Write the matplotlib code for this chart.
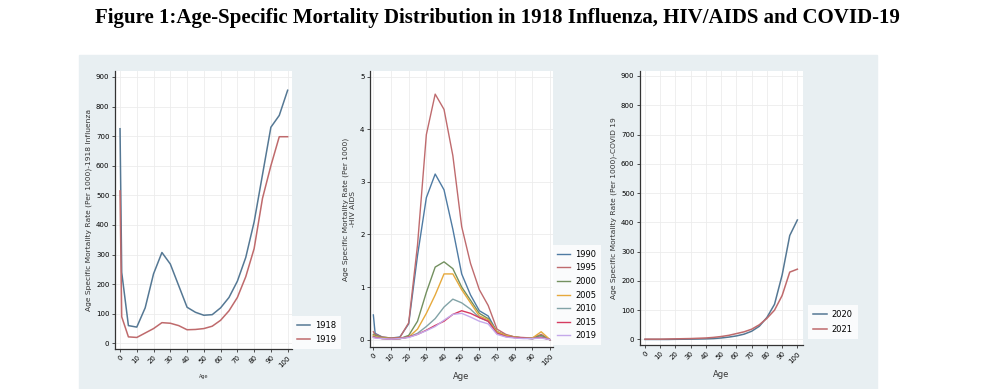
import numpy as np
import matplotlib
matplotlib.use("Agg")
import matplotlib.pyplot as plt
from matplotlib.patches import Rectangle

# age groups
ages = [0, 1, 5, 10, 15, 20, 25, 30, 35, 40, 45, 50, 55, 60, 65, 70, 75, 80, 85, 90, 95, 100]

# 1918 influenza (per 1000)
flu_1918 = [725, 240, 60, 55, 120, 235, 307, 268, 195, 122, 105, 95, 97, 120, 155, 210, 290, 410, 570, 730, 770, 855]
flu_1919 = [515, 90, 22, 20, 35, 50, 70, 68, 60, 46, 47, 50, 58, 78, 110, 155, 225, 320, 490, 600, 698, 698]

# HIV/AIDS (per 1000)
hiv_1990 = [0.47, 0.12, 0.05, 0.03, 0.05, 0.30, 1.60, 2.70, 3.15, 2.85, 2.10, 1.25, 0.85, 0.55, 0.45, 0.15, 0.08, 0.05, 0.03, 0.02, 0.05, 0.0]
hiv_1995 = [0.15, 0.10, 0.05, 0.03, 0.04, 0.32, 1.80, 3.90, 4.67, 4.38, 3.50, 2.15, 1.45, 0.95, 0.65, 0.20, 0.10, 0.05, 0.04, 0.03, 0.10, 0.0]
hiv_2000 = [0.10, 0.08, 0.04, 0.02, 0.02, 0.08, 0.35, 0.90, 1.38, 1.48, 1.35, 1.00, 0.75, 0.50, 0.40, 0.15, 0.08, 0.05, 0.03, 0.03, 0.08, 0.0]
hiv_2005 = [0.08, 0.06, 0.03, 0.02, 0.02, 0.05, 0.20, 0.50, 0.85, 1.25, 1.25, 0.95, 0.70, 0.45, 0.38, 0.15, 0.08, 0.05, 0.03, 0.03, 0.15, 0.0]
hiv_2010 = [0.06, 0.05, 0.02, 0.01, 0.02, 0.05, 0.12, 0.25, 0.40, 0.62, 0.77, 0.70, 0.58, 0.42, 0.35, 0.12, 0.06, 0.04, 0.03, 0.02, 0.05, 0.0]
hiv_2015 = [0.05, 0.04, 0.02, 0.01, 0.02, 0.05, 0.10, 0.18, 0.27, 0.35, 0.48, 0.55, 0.50, 0.42, 0.35, 0.12, 0.06, 0.04, 0.03, 0.02, 0.04, 0.0]
hiv_2019 = [0.04, 0.03, 0.02, 0.01, 0.02, 0.04, 0.10, 0.17, 0.25, 0.37, 0.48, 0.50, 0.43, 0.35, 0.30, 0.10, 0.05, 0.03, 0.02, 0.02, 0.03, 0.0]

# COVID-19 (per 1000)
covid_2020 = [0, 0, 0, 0, 0, 0.5, 0.7, 1, 1.5, 2, 3, 5, 8, 12, 18, 28, 45, 75, 120, 220, 355, 408]
covid_2021 = [1, 1, 1, 1, 1.5, 2, 2.5, 3, 4, 5, 7, 10, 14, 20, 26, 35, 50, 72, 100, 150, 230, 240]

c_blue = "#557894"
c_red = "#bf6a6c"
hiv_series = [("1990", hiv_1990, "#4f7ba3"), ("1995", hiv_1995, "#bf6b6e"),
              ("2000", hiv_2000, "#73905f"), ("2005", hiv_2005, "#e6a93c"),
              ("2010", hiv_2010, "#82a3a7"), ("2015", hiv_2015, "#d63b60"),
              ("2019", hiv_2019, "#c4a9ea")]

W, H = 1000, 389
fig = plt.figure(figsize=(10, 3.89), dpi=100)
fig.patch.set_facecolor("white")

def px_axes(l, r, t, b):
    return fig.add_axes([l / W, 1 - b / H, (r - l) / W, (b - t) / H])

# light panel behind the three charts
fig.patches.append(Rectangle((79 / W, 0), (877 - 79) / W, 1 - 55 / H,
                             transform=fig.transFigure, color="#e8eff2", zorder=-10))

fig.text(0.497, 1 - 18.5 / H, "Figure 1:Age-Specific Mortality Distribution in 1918 Influenza, HIV/AIDS and COVID-19",
         ha="center", va="center", fontsize=15, fontweight="bold", family="Liberation Serif")

def style(ax, yticks, ylabel, xlab_size):
    ax.set_facecolor("white")
    for s in ["top", "right"]:
        ax.spines[s].set_visible(False)
    for s in ["left", "bottom"]:
        ax.spines[s].set_color("#333333")
        ax.spines[s].set_linewidth(0.9)
    ax.set_xticks(range(0, 101, 10))
    ax.set_yticks(yticks)
    ax.grid(True, color="#ececec", linewidth=0.6)
    ax.set_axisbelow(True)
    ax.tick_params(axis="both", labelsize=5, length=2.5, width=0.6, color="#333333", pad=1.5)
    for lab in ax.get_xticklabels():
        lab.set_rotation(45)
        lab.set_ha("right")
        lab.set_rotation_mode("anchor")
    ax.set_ylabel(ylabel, fontsize=5.4, color="#333333", labelpad=3)
    ax.set_xlabel("Age", fontsize=xlab_size, color="#333333", labelpad=4)

def legend(ax, x0, y0, x1, y1, spacing):
    leg = ax.legend(loc="center", bbox_to_anchor=(x0 / W, 1 - y1 / H, (x1 - x0) / W, (y1 - y0) / H),
                    bbox_transform=fig.transFigure, fontsize=6, frameon=True, fancybox=False,
                    handlelength=1.6, handletextpad=0.6, labelspacing=spacing,
                    borderpad=0.6, borderaxespad=0)
    leg.get_frame().set_facecolor("white")
    leg.get_frame().set_edgecolor("white")
    leg.get_frame().set_linewidth(0)
    return leg

# panel 1: 1918 influenza
ax1 = px_axes(115, 292, 71, 349)
ax1.plot(ages, flu_1918, color=c_blue, lw=1.1, label="1918")
ax1.plot(ages, flu_1919, color=c_red, lw=1.1, label="1919")
ax1.set_xlim(-3, 102.6)
ax1.set_ylim(-19, 920)
style(ax1, range(0, 901, 100), "Age Specific Mortality Rate (Per 1000)-1918 Influenza", 3.5)
legend(ax1, 295, 318, 338, 346, 0.6)

# panel 2: HIV/AIDS
ax2 = px_axes(370, 553, 71, 347)
for name, vals, col in hiv_series:
    ax2.plot(ages, vals, color=col, lw=1.0, label=name)
ax2.set_xlim(-1.9, 101.7)
ax2.set_ylim(-0.14, 5.11)
style(ax2, range(0, 6), "Age Specific Mortality Rate (Per 1000)\n-HIV AIDS", 6)
legend(ax2, 555, 247, 598, 343, 0.55)

# panel 3: COVID-19
ax3 = px_axes(640, 803, 71, 345)
ax3.plot(ages, covid_2020, color=c_blue, lw=1.1, label="2020")
ax3.plot(ages, covid_2021, color=c_red, lw=1.1, label="2021")
ax3.set_xlim(-3.3, 103.7)
ax3.set_ylim(-19, 917)
style(ax3, range(0, 901, 100), "Age Specific Mortality Rate (Per 1000)-COVID 19", 6)
legend(ax3, 806, 302, 860, 342, 0.8)

fig.savefig("out.png", dpi=100, facecolor="white")
